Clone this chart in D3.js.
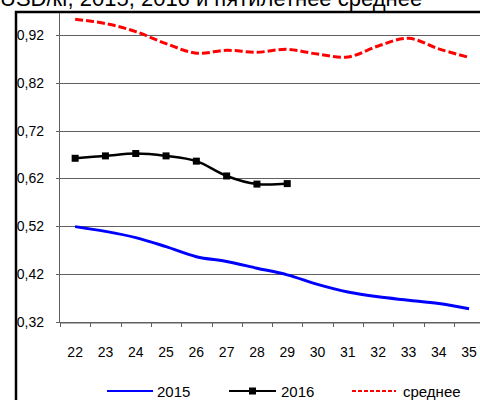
<!DOCTYPE html>
<html>
<head>
<meta charset="utf-8">
<script src="https://cdn.jsdelivr.net/npm/d3@7"></script>
<style>
  body { margin: 0; background: #fff; }
  svg { display: block; }
</style>
</head>
<body>
<div id="chart"></div>
<script>
// недели, значения (USD/кг)
var weeks = ["22","23","24","25","26","27","28","29","30","31","32","33","34","35"]
var v2015 = [0.519,0.509,0.496,0.477,0.456,0.446,0.432,0.418,0.398,0.382,0.372,0.365,0.358,0.347]
var v2016 = [0.662,0.667,0.672,0.667,0.656,0.625,0.608,0.609]
var vAvg = [0.953,0.944,0.927,0.902,0.882,0.888,0.884,0.890,0.880,0.874,0.897,0.913,0.891,0.873]
var yTicks = [0.32,0.42,0.52,0.62,0.72,0.82,0.92]
var yLabels = ["0,32","0,42","0,52","0,62","0,72","0,82","0,92"]
var seriesNames = ["2015","2016","среднее"]
var title = "USD/кг, 2015, 2016 и пятилетнее среднее"

var svgWidth = 480
var svgHeight = 400
var narrow = "'Liberation Sans Narrow','Arial Narrow','Liberation Sans',Arial,sans-serif"

var svg = d3.select("#chart")
    .append("svg")
    .attr("width", svgWidth)
    .attr("height", svgHeight)

// заголовок (в оригинале обрезан сверху)
svg.append("text")
    .attr("x", 0)
    .attr("y", 6)
    .attr("font-family", "'Liberation Sans',Arial,sans-serif")
    .attr("font-size", "22px")
    .attr("fill", "#000")
    .text(title)

svg.append("rect")
    .attr("x", 16)
    .attr("y", 12)
    .attr("width", 600)
    .attr("height", 600)
    .attr("fill", "#fff")
    .attr("stroke", "#000")
    .attr("stroke-width", 2.5)

var XScale = d3.scaleBand()
    .domain(weeks)
    .range([60, 60 + 14 * 30.3])
var YScale = d3.scaleLinear()
    .domain([0.32, 0.92])
    .range([321.7, 35])

// сетка
svg.selectAll(".grid")
    .data(yTicks)
    .enter()
    .append("line")
    .attr("x1", 56)
    .attr("x2", svgWidth)
    .attr("y1", d => Math.round(YScale(d)) + 0.5)
    .attr("y2", d => Math.round(YScale(d)) + 0.5)
    .attr("stroke", "#606060")
    .attr("stroke-width", 1)

svg.selectAll(".ylab")
    .data(yTicks)
    .enter()
    .append("text")
    .attr("x", 44)
    .attr("y", d => YScale(d) + 5)
    .attr("text-anchor", "end")
    .attr("font-family", narrow)
    .attr("font-size", "14px")
    .text((d, i) => yLabels[i])

// ось Y
svg.append("line")
    .attr("x1", 59.5).attr("x2", 59.5)
    .attr("y1", 13).attr("y2", 322)
    .attr("stroke", "#606060")

// ось X
var bottomAxis = d3.axisBottom(XScale).tickSize(0).tickPadding(0).tickFormat("")
var xg = svg.append("g")
    .attr("transform", `translate(0,${Math.round(YScale(0.32)) + 0.5})`)
    .call(bottomAxis)
xg.select(".domain").attr("stroke", "#606060")
svg.selectAll(".xtick")
    .data(weeks.concat(["end"]))
    .enter()
    .append("line")
    .attr("x1", (d, i) => Math.round(60 + i * XScale.step()) + 0.5)
    .attr("x2", (d, i) => Math.round(60 + i * XScale.step()) + 0.5)
    .attr("y1", 322)
    .attr("y2", 327)
    .attr("stroke", "#606060")
svg.selectAll(".xlab")
    .data(weeks)
    .enter()
    .append("text")
    .attr("x", d => XScale(d) + XScale.bandwidth() / 2)
    .attr("y", 357)
    .attr("text-anchor", "middle")
    .attr("font-family", narrow)
    .attr("font-size", "14px")
    .text(d => d)

var cx = (d, i) => XScale(weeks[i]) + XScale.bandwidth() / 2
var line = d3.line()
    .x(cx)
    .y(d => YScale(d))
    .curve(d3.curveCatmullRom.alpha(0.5))

svg.append("path")
    .datum(vAvg)
    .attr("d", line)
    .attr("fill", "none")
    .attr("stroke", "#ff0000")
    .attr("stroke-width", 3)
    .attr("stroke-dasharray", "8,3")

svg.append("path")
    .datum(v2015)
    .attr("d", line)
    .attr("fill", "none")
    .attr("stroke", "#0000ff")
    .attr("stroke-width", 3)

svg.append("path")
    .datum(v2016)
    .attr("d", line)
    .attr("fill", "none")
    .attr("stroke", "#000")
    .attr("stroke-width", 2.5)

svg.selectAll(".mark")
    .data(v2016)
    .enter()
    .append("rect")
    .attr("x", (d, i) => cx(d, i) - 3.5)
    .attr("y", d => YScale(d) - 3.5)
    .attr("width", 7)
    .attr("height", 7)
    .attr("fill", "#000")

// легенда
var ly = 391
var leg = svg.append("g")
leg.append("line").attr("x1", 107).attr("x2", 153).attr("y1", ly).attr("y2", ly)
    .attr("stroke", "#0000ff").attr("stroke-width", 2)
leg.append("line").attr("x1", 229).attr("x2", 276).attr("y1", ly).attr("y2", ly)
    .attr("stroke", "#000").attr("stroke-width", 2)
leg.append("rect").attr("x", 249).attr("y", ly - 3.5).attr("width", 7).attr("height", 7)
    .attr("fill", "#000")
leg.append("line").attr("x1", 352).attr("x2", 396).attr("y1", ly).attr("y2", ly)
    .attr("stroke", "#ff0000").attr("stroke-width", 2).attr("stroke-dasharray", "4,2")
leg.selectAll(".ltxt")
    .data(seriesNames)
    .enter()
    .append("text")
    .attr("x", (d, i) => [157, 281, 403][i])
    .attr("y", ly + 6)
    .attr("font-family", narrow)
    .attr("font-size", "15px")
    .text(d => d)
</script>
</body>
</html>
